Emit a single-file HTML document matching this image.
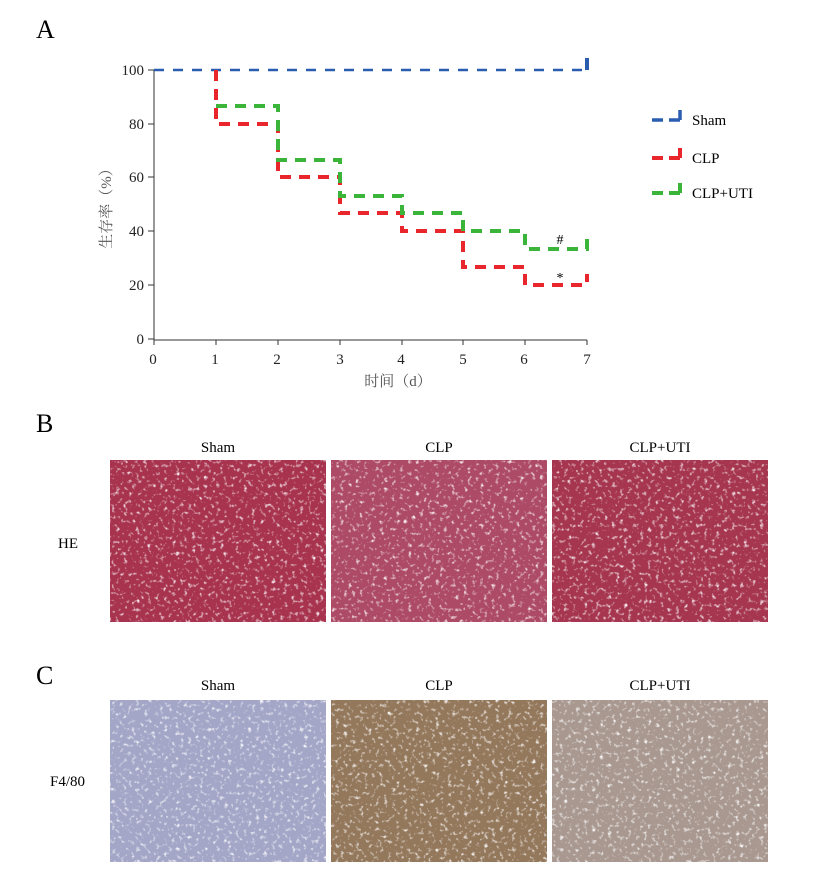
<!DOCTYPE html>
<html><head><meta charset="utf-8"><style>
body{margin:0;background:#fff;width:825px;height:868px;overflow:hidden;font-family:"Liberation Serif","Noto Serif CJK SC",serif;}
</style></head><body>
<svg width="825" height="868" viewBox="0 0 825 868" xmlns="http://www.w3.org/2000/svg" font-family="Liberation Serif, Noto Serif CJK SC, serif">
<defs>
<filter id="tex" x="0" y="0" width="100%" height="100%">
<feTurbulence type="fractalNoise" baseFrequency="0.25" numOctaves="2" seed="3" result="n"/>
<feColorMatrix in="n" type="matrix" values="0 0 0 0 1  0 0 0 0 1  0 0 0 0 1  0 0 0 -3 1.3" result="w"/>
<feComposite in="w" in2="SourceGraphic" operator="in"/>
</filter>
</defs>
<text x="36" y="38" font-size="26">A</text>
<text x="36" y="432" font-size="26">B</text>
<text x="36" y="684" font-size="26">C</text>
<g stroke="#333" stroke-width="1" fill="none">
<line x1="154" y1="70" x2="154" y2="340"/>
<line x1="154" y1="340" x2="587" y2="340"/>
<line x1="148" y1="70" x2="154" y2="70"/><line x1="148" y1="124" x2="154" y2="124"/><line x1="148" y1="177" x2="154" y2="177"/><line x1="148" y1="231" x2="154" y2="231"/><line x1="148" y1="285" x2="154" y2="285"/><line x1="148" y1="339" x2="154" y2="339"/>
<line x1="154" y1="340" x2="154" y2="345"/><line x1="216" y1="340" x2="216" y2="345"/><line x1="278" y1="340" x2="278" y2="345"/><line x1="340" y1="340" x2="340" y2="345"/><line x1="402" y1="340" x2="402" y2="345"/><line x1="463" y1="340" x2="463" y2="345"/><line x1="525" y1="340" x2="525" y2="345"/><line x1="587" y1="340" x2="587" y2="345"/>
</g>
<g font-size="15" text-anchor="end" fill="#222">
<text x="144" y="75">100</text><text x="144" y="129">80</text><text x="144" y="182">60</text><text x="144" y="236">40</text><text x="144" y="290">20</text><text x="144" y="344">0</text>
</g>
<g font-size="15" text-anchor="middle" fill="#222">
<text x="153" y="364">0</text><text x="215" y="364">1</text><text x="277" y="364">2</text><text x="340" y="364">3</text><text x="401" y="364">4</text><text x="463" y="364">5</text><text x="524" y="364">6</text><text x="587" y="364">7</text>
</g>
<text x="398" y="386" font-size="15" text-anchor="middle" fill="#555">时间（d）</text>
<text transform="translate(111,205) rotate(-90)" font-size="15" text-anchor="middle" fill="#555">生存率（%）</text>
<polyline points="154,70 587,70" stroke="#2a5db0" stroke-width="2.5" fill="none" stroke-dasharray="10,9"/>
<line x1="587" y1="58" x2="587" y2="70" stroke="#2a5db0" stroke-width="4"/>
<polyline points="216,70 216,124 278,124 278,177 340,177 340,213 402,213 402,231 463,231 463,267 525,267 525,285 587,285 587,274" stroke="#e8262c" stroke-width="4" fill="none" stroke-dasharray="11,8"/>
<polyline points="216,106 278,106 278,160 340,160 340,196 402,196 402,213 463,213 463,231 525,231 525,249 587,249 587,238" stroke="#3ab53a" stroke-width="4" fill="none" stroke-dasharray="11,8"/>
<text x="560" y="244" font-size="14" text-anchor="middle">#</text>
<text x="560" y="282" font-size="14" text-anchor="middle">*</text>
<line x1="652" y1="120" x2="680" y2="120" stroke="#2a5db0" stroke-width="3.5" stroke-dasharray="11,6"/><line x1="680" y1="110" x2="680" y2="120" stroke="#2a5db0" stroke-width="3.5"/>
<text x="692" y="125" font-size="15">Sham</text>
<line x1="652" y1="158" x2="680" y2="158" stroke="#e8262c" stroke-width="4" stroke-dasharray="11,6"/><line x1="680" y1="148" x2="680" y2="158" stroke="#e8262c" stroke-width="4"/>
<text x="692" y="163" font-size="15">CLP</text>
<line x1="652" y1="193" x2="680" y2="193" stroke="#3ab53a" stroke-width="4" stroke-dasharray="11,6"/><line x1="680" y1="183" x2="680" y2="193" stroke="#3ab53a" stroke-width="4"/>
<text x="692" y="198" font-size="15">CLP+UTI</text>
<g font-size="15" text-anchor="middle">
<text x="218" y="452">Sham</text><text x="439" y="452">CLP</text><text x="660" y="452">CLP+UTI</text>
<text x="218" y="690">Sham</text><text x="439" y="690">CLP</text><text x="660" y="690">CLP+UTI</text>
</g>
<text x="58" y="548" font-size="15">HE</text>
<text x="50" y="786" font-size="15">F4/80</text>
<rect x="110" y="460" width="216" height="162" fill="#a8334f"/>
<rect x="331" y="460" width="216" height="162" fill="#ad4a66"/>
<rect x="552" y="460" width="216" height="162" fill="#a63650"/>
<rect x="110" y="460" width="216" height="162" fill="#000" filter="url(#tex)"/>
<rect x="331" y="460" width="216" height="162" fill="#000" filter="url(#tex)"/>
<rect x="552" y="460" width="216" height="162" fill="#000" filter="url(#tex)"/>
<rect x="110" y="700" width="216" height="162" fill="#a4a6c8"/>
<rect x="331" y="700" width="216" height="162" fill="#94785c"/>
<rect x="552" y="700" width="216" height="162" fill="#a89890"/>
<rect x="110" y="700" width="216" height="162" fill="#000" filter="url(#tex)"/>
<rect x="331" y="700" width="216" height="162" fill="#000" filter="url(#tex)"/>
<rect x="552" y="700" width="216" height="162" fill="#000" filter="url(#tex)"/>
</svg>
</body></html>
